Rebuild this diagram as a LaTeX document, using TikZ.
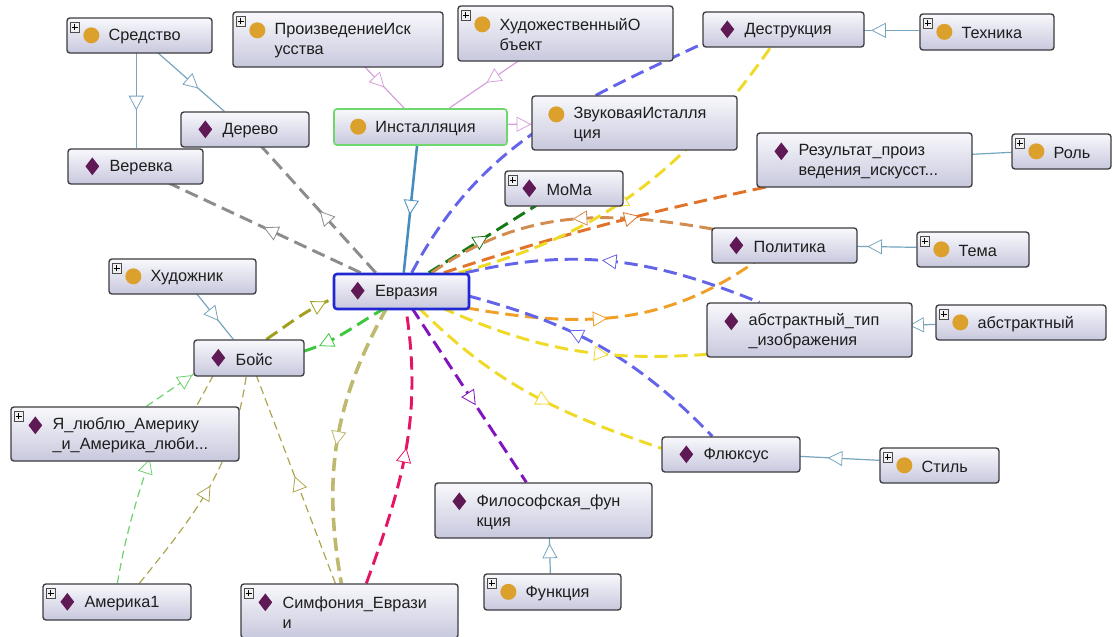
\documentclass[tikz,border=0pt]{standalone}
\usepackage{fontspec}
\setmainfont{Liberation Sans}
\usetikzlibrary{shapes.geometric,calc}
\pgfdeclarelayer{bg}
\pgfsetlayers{bg,main}
\definecolor{boxborder}{RGB}{60,60,64}
\definecolor{boxtop}{RGB}{248,248,252}
\definecolor{boxbot}{RGB}{200,200,222}
\definecolor{textcol}{RGB}{30,30,30}
\definecolor{icongold}{RGB}{220,160,45}
\definecolor{iconpurple}{RGB}{95,25,85}
\definecolor{evrblue}{RGB}{32,40,210}
\definecolor{instgreen}{RGB}{110,215,110}
\definecolor{subc}{RGB}{120,165,190}
\definecolor{pinkc}{RGB}{215,160,220}
\definecolor{instc}{RGB}{70,140,190}
\definecolor{grayd}{RGB}{140,140,140}
\definecolor{blued}{RGB}{100,100,235}
\definecolor{yellowd}{RGB}{240,218,40}
\definecolor{dgreen}{RGB}{20,120,20}
\definecolor{tanc}{RGB}{210,140,80}
\definecolor{dorange}{RGB}{225,115,40}
\definecolor{orangec}{RGB}{240,160,40}
\definecolor{purplec}{RGB}{130,20,190}
\definecolor{crimson}{RGB}{230,20,100}
\definecolor{khaki}{RGB}{190,185,110}
\definecolor{olivec}{RGB}{160,160,30}
\definecolor{greenc}{RGB}{60,200,60}
\definecolor{lgreen}{RGB}{110,210,110}
\definecolor{olivet}{RGB}{175,165,80}
\tikzset{
  obox/.style={rectangle, draw=boxborder, line width=1pt, rounded corners=2.2pt,
    top color=boxtop, bottom color=boxbot, inner sep=0},
  bx/.style={},
  otext/.style={inner sep=0, align=left, text=textcol, font=\fontsize{12.2}{15}\selectfont},
  circ/.style={circle, fill=icongold, inner sep=0, minimum size=12pt},
  diam/.style={diamond, fill=iconpurple, inner sep=0, minimum width=10.5pt, minimum height=13.5pt},
  plusbox/.style={rectangle, draw=gray!60!black, fill=gray!12, line width=0.4pt,
    minimum size=7pt, inner sep=0,
    path picture={\draw[black,line width=0.7pt]
      ($(path picture bounding box.center)+(-3,0)$) -- ($(path picture bounding box.center)+(3,0)$)
      ($(path picture bounding box.center)+(0,-3)$) -- ($(path picture bounding box.center)+(0,3)$);}},
  tri/.style={isosceles triangle, isosceles triangle stretches=true, minimum width=10.5pt,
    minimum height=10pt, inner sep=0, draw, solid, fill=white, line width=0.6pt,
    sloped, allow upside down},
  trir/.style={tri, shape border rotate=180},
  sub/.style={color=subc, line width=0.9pt},
  dsh/.style={line width=2.2pt, dash pattern=on 10pt off 5pt},
  thn/.style={line width=0.9pt, dash pattern=on 6pt off 3.5pt},
}
\newcommand\ontbox[9]{%
  \node[obox,bx,minimum width={(#4-#2)*0.75pt},minimum height={(#5-#3)*0.75pt}] (#1) at ({(#2+#4)/2},{(#3+#5)/2}) {};%
  \node[otext,anchor=west] (#1-t) at ($(#1.north west)+(42,{(#5-#3)/2+2})$) {#8};%
  \node[#6] (#1-i) at ($(#1.north west)+(25,#9)$) {};%
  \ifnum#7=1 \node[plusbox] (#1-p) at ($(#1.north west)+(8.5,10)$) {};\fi
}
\begin{document}
\begin{tikzpicture}[x=0.75pt,y=-0.75pt]
\useasboundingbox (0,0) rectangle (1113,636);
\ontbox{sred}{67}{18}{212}{53}{circ}{1}{Средство}{18}
\ontbox{proiz}{233}{12}{443}{67}{circ}{1}{ПроизведениеИск\\усства}{19}
\ontbox{hudobj}{458}{6}{673}{61}{circ}{1}{ХудожественныйО\\бъект}{19}
\ontbox{destr}{703}{12}{864}{47}{diam}{0}{Деструкция}{18}
\ontbox{tehn}{920}{14}{1054}{50}{circ}{1}{Техника}{18.5}
\ontbox{derevo}{181}{112}{309}{147}{diam}{0}{Дерево}{18}
\tikzset{bx/.style={draw=instgreen,line width=1.2pt}}
\ontbox{inst}{334}{109}{507}{145}{circ}{0}{Инсталляция}{18.5}
\tikzset{bx/.style={}}
\ontbox{zvuk}{532}{96}{737}{150}{circ}{0}{ЗвуковаяИсталля\\ция}{19}
\ontbox{verevka}{68}{149}{203}{184}{diam}{0}{Веревка}{18}
\ontbox{rez}{757}{133}{972}{187}{diam}{0}{Результат\_произ\\ведения\_искусст...}{19}
\ontbox{rol}{1012}{134}{1111}{169}{circ}{1}{Роль}{18}
\ontbox{moma}{505}{171}{623}{206}{diam}{1}{MoMa}{18}
\ontbox{polit}{712}{228}{857}{263}{diam}{0}{Политика}{18}
\ontbox{tema}{917}{232}{1029}{267}{circ}{1}{Тема}{18}
\ontbox{hudozh}{109}{259}{256}{294}{circ}{1}{Художник}{18}
\tikzset{bx/.style={draw=evrblue,line width=1.9pt}}
\ontbox{evr}{334}{274}{469}{309}{diam}{0}{Евразия}{18}
\tikzset{bx/.style={}}
\ontbox{abtip}{707}{303}{912}{357}{diam}{0}{абстрактный\_тип\\\_изображения}{19}
\ontbox{abst}{936}{305}{1106}{340}{circ}{1}{абстрактный}{18}
\ontbox{boys}{194}{340}{304}{376}{diam}{0}{Бойс}{18.5}
\ontbox{ya}{11}{407}{239}{461}{diam}{1}{Я\_люблю\_Америку\\\_и\_Америка\_люби...}{19}
\ontbox{flux}{662}{437}{800}{472}{diam}{0}{Флюксус}{18}
\ontbox{stil}{880}{448}{999}{483}{circ}{1}{Стиль}{18}
\ontbox{filos}{435}{483}{652}{538}{diam}{0}{Философская\_фун\\кция}{19}
\ontbox{func}{484}{574}{621}{610}{circ}{1}{Функция}{18.5}
\ontbox{amer}{43}{584}{191}{620}{diam}{1}{Америка1}{18.5}
\ontbox{simf}{241}{584}{458}{638}{diam}{1}{Симфония\_Еврази\\и}{19}
\begin{pgfonlayer}{bg}
\fill[white] (0,0) rectangle (1113,636);
% class / individual links
\draw[sub] ($(sred.north west)+(70,35)$) -- node[tri,pos=0.5] (a1) {} ($(verevka.north west)+(69,0)$);
\draw[sub] ($(sred.north west)+(91,35)$) -- node[tri,pos=0.5] (a2) {} ($(derevo.north west)+(44,0)$);
\draw[sub,color=pinkc] ($(proiz.north west)+(132,55)$) -- node[tri,pos=0.33] (a3) {} ($(inst.north west)+(71,0)$);
\draw[sub,color=pinkc] ($(hudobj.north west)+(62,55)$) -- node[tri,pos=0.35] (a4) {} ($(inst.north west)+(116,0)$);
\draw[sub,color=pinkc] ($(inst.north west)+(173,16)$) -- node[tri,pos=0.6] (a5) {} ($(zvuk.north west)+(0,29)$);
\draw[sub] ($(tehn.north west)+(0,17)$) -- node[tri,pos=0.68] (a6) {} ($(destr.north west)+(161,19)$);
\draw[sub] ($(rol.north west)+(0,19)$) -- ($(rez.north west)+(215,22)$);
\draw[sub] ($(tema.north west)+(0,16)$) -- node[tri,pos=0.65] (a8) {} ($(polit.north west)+(145,19)$);
\draw[sub] ($(abst.north west)+(0,20)$) -- node[tri,pos=0.67] (a9) {} ($(abtip.north west)+(205,23)$);
\draw[sub] ($(stil.north west)+(0,13)$) -- node[tri,pos=0.52] (a10) {} ($(flux.north west)+(138,20)$);
\draw[sub] ($(func.north west)+(67,0)$) -- node[tri,pos=0.55] (a11) {} ($(filos.north west)+(115,55)$);
\draw[sub] ($(hudozh.north west)+(88,35)$) -- node[tri,pos=0.43] (a12) {} ($(boys.north west)+(40,0)$);
\draw[sub,color=instc,line width=1.9pt] ($(inst.north west)+(84,36)$) -- node[tri,pos=0.47] (a13) {} ($(evr.north west)+(71,0)$);
% object property links
\draw[dsh,color=grayd] ($(evr.north west)+(28,0)$) -- node[tri,pos=0.46] (b1) {} ($(verevka.north west)+(102,35)$);
\draw[dsh,color=grayd] ($(evr.north west)+(43,0)$) -- node[tri,pos=0.43] (b2) {} ($(derevo.north west)+(81,35)$);
\draw[dsh,color=blued] ($(evr.north west)+(79,0)$) to[out=62,in=205] ($(destr.north west)+(1,32)$);
\draw[dsh,color=dgreen] ($(evr.north west)+(96,0)$) -- node[tri,pos=0.47] (b5) {} ($(moma.north west)+(32,35)$);
\draw[dsh,color=tanc] ($(evr.north west)+(99,0)$) to[out=35,in=170] node[trir,pos=0.56] (b6) {} ($(polit.north west)+(3,2)$);
\draw[dsh,color=dorange] ($(evr.north west)+(111,0)$) to[out=18,in=192] node[tri,pos=0.58] (b7) {} ($(rez.north west)+(13,54)$);
\draw[dsh,color=yellowd] ($(evr.north west)+(126,0)$) to[out=15,in=235] node[trir,pos=0.45] (b4) {} ($(destr.north west)+(69,35)$);
\draw[dsh,color=orangec] ($(evr.north west)+(133,35)$) to[out=-10,in=215] node[tri,pos=0.43] (b8) {} ($(polit.north west)+(43,35)$);
\draw[dsh,color=blued] ($(evr.north west)+(133,0)$) to[out=13,in=158] node[trir,pos=0.49] (b9) {} ($(abtip.north west)+(53,0)$);
\draw[dsh,color=blued] ($(evr.north west)+(135,23)$) to[out=-15,in=134] node[trir,pos=0.4] (b10) {} ($(flux.north west)+(51,0)$);
\draw[dsh,color=yellowd] ($(evr.north west)+(109,35)$) to[out=-24,in=184] node[tri,pos=0.61] (b11) {} ($(abtip.north west)+(1,52)$);
\draw[dsh,color=yellowd] ($(evr.north west)+(86,35)$) to[out=-45,in=161] node[tri,pos=0.55] (b12) {} ($(flux.north west)+(0,12)$);
\draw[dsh,color=purplec] ($(evr.north west)+(79,35)$) -- node[tri,pos=0.51] (b13) {} ($(filos.north west)+(92,0)$);
\draw[dsh,color=crimson] ($(simf.north west)+(126,0)$) to[out=70,in=-81] node[tri,pos=0.46] (b14) {} ($(evr.north west)+(73,35)$);
\draw[dsh,color=khaki,line width=2.7pt] ($(evr.north west)+(54,35)$) to[out=241,in=100] node[tri,pos=0.48] (b15) {} ($(simf.north west)+(101,0)$);
\draw[dsh,color=olivec] ($(boys.north west)+(73,0)$) to[out=34,in=203] node[tri,pos=0.8] (b16) {} ($(evr.north west)+(0,26)$);
\draw[dsh,color=greenc] ($(evr.north west)+(53,35)$) to[out=209,in=17] node[tri,pos=0.73] (b17) {} ($(boys.north west)+(110,12)$);
% thin links
\draw[thn,color=lgreen] ($(ya.north west)+(136,0)$) -- node[tri,pos=0.8] (c1) {} ($(boys.north west)+(0,35)$);
\draw[thn,color=lgreen] ($(amer.north west)+(75,0)$) to[out=80,in=252] node[tri,pos=0.94] (c2) {} ($(ya.north west)+(139,54)$);
\draw[thn,color=olivet] ($(boys.north west)+(20,36)$) -- ($(ya.north west)+(186,0)$);
\draw[thn,color=olivet] ($(amer.north west)+(97,0)$) to[out=51,in=262] node[tri,pos=0.46] (c4) {} ($(boys.north west)+(53,36)$);
\draw[thn,color=olivet] ($(simf.north west)+(95,0)$) -- node[tri,pos=0.47] (c5) {} ($(boys.north west)+(63,36)$);
\end{pgfonlayer}
\end{tikzpicture}
\end{document}
